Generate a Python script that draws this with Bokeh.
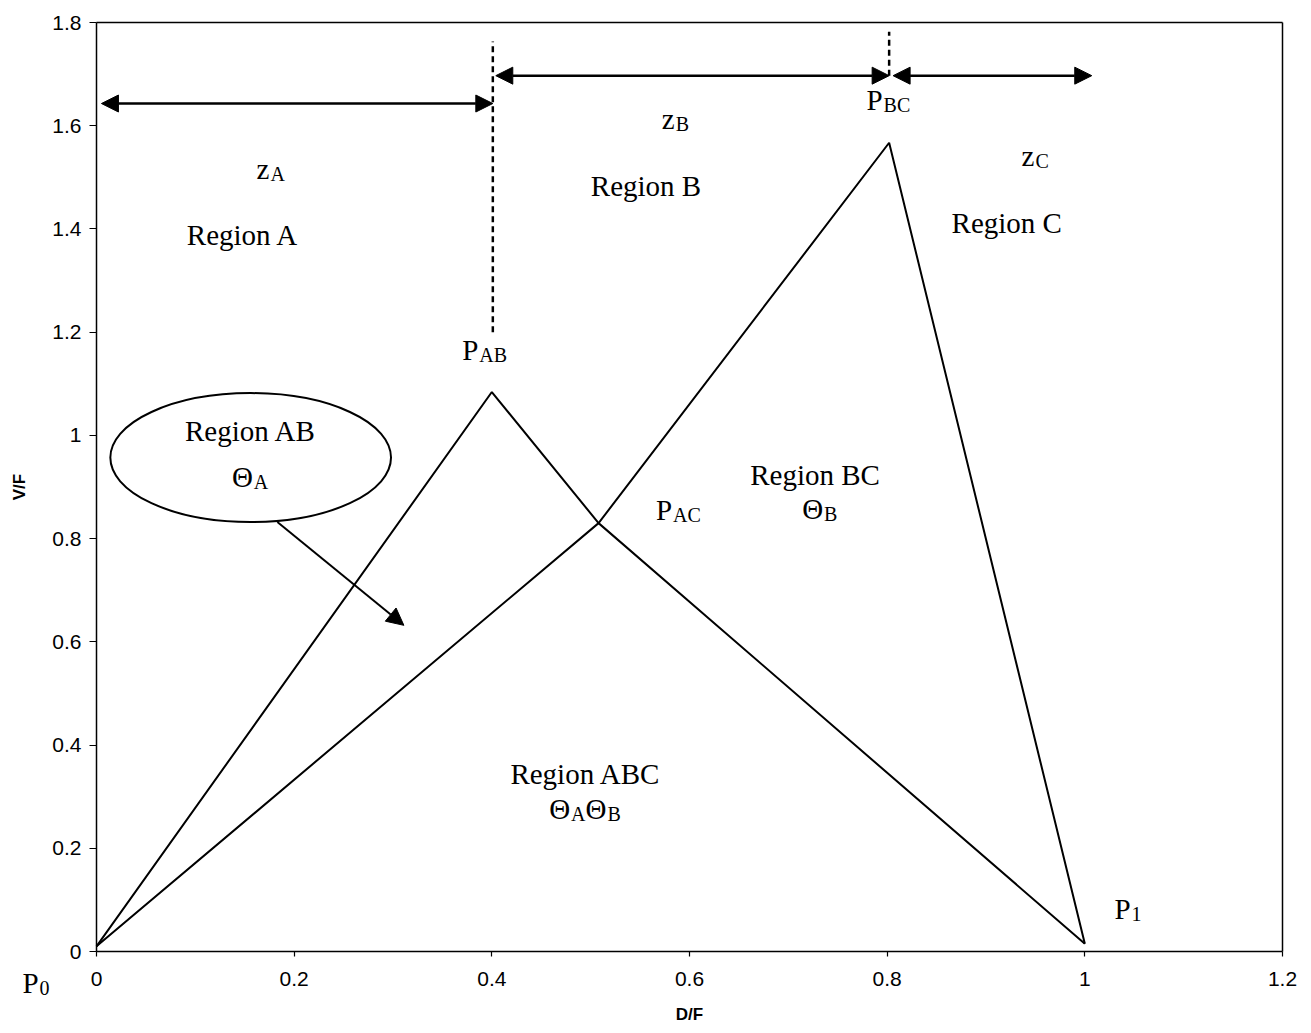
from bokeh.plotting import figure
from bokeh.models import Arrow, NormalHead, FixedTicker, LinearAxis
from bokeh.core.properties import value
from bokeh.embed import file_html
from bokeh.resources import INLINE

# Operating lines (D/F on x, V/F on y)
line_a_x = [0.0, 0.400, 0.508, 1.0]
line_a_y = [0.01, 1.084, 0.830, 0.015]
line_b_x = [0.0, 0.508, 0.802, 1.0]
line_b_y = [0.01, 0.830, 1.567, 0.015]

# Axis ticks
x_ticks = [0, 0.2, 0.4, 0.6, 0.8, 1.0, 1.2]
x_tick_labels = ["0", "0.2", "0.4", "0.6", "0.8", "1", "1.2"]
y_ticks = [0, 0.2, 0.4, 0.6, 0.8, 1.0, 1.2, 1.4, 1.6, 1.8]
y_tick_labels = ["0", "0.2", "0.4", "0.6", "0.8", "1", "1.2", "1.4", "1.6", "1.8"]
x_lim = (0.0, 1.2)
y_lim = (0.0, 1.8)

# Zone spans z_A, z_B, z_C (start, end, height of the double arrow)
zone_start = [0.005, 0.404, 0.806]
zone_end = [0.401, 0.802, 1.007]
zone_level = [1.643, 1.697, 1.697]

# Dotted zone boundaries
boundary_x = [0.401, 0.802]
boundary_bottom = [1.20, 1.697]
boundary_top = [1.763, 1.782]

# Canvas geometry: the axes box sits inside a 1311 x 1033 canvas
W, H = 1311, 1033
BOX_LEFT, BOX_RIGHT, BOX_TOP, BOX_BOTTOM = 96, 1282, 22, 951
kx = (BOX_RIGHT - BOX_LEFT) / (x_lim[1] - x_lim[0])
ky = (BOX_BOTTOM - BOX_TOP) / (y_lim[1] - y_lim[0])
x_range = (x_lim[0] - BOX_LEFT / kx, x_lim[0] + (W - BOX_LEFT) / kx)
y_range = (y_lim[0] - (H - BOX_BOTTOM) / ky, y_lim[0] + BOX_BOTTOM / ky)

SERIF = "Liberation Serif"
SANS = "Liberation Sans"
BASE_SIZE = 29
SUB_SIZE = 20
# advance widths in em (Times metrics)
EM = {"P": 0.556, "z": 0.444, "Θ": 0.722, "A": 0.722, "B": 0.667, "C": 0.667,
      "0": 0.5, "1": 0.5}


def em_width(s, size):
    return sum(EM.get(c, 0.55) for c in s) * size


p = figure(width=W, height=H, x_range=x_range, y_range=y_range,
           output_backend="svg", toolbar_location=None,
           min_border=0, min_border_left=0, min_border_right=0,
           min_border_top=0, min_border_bottom=0)

p.xgrid.visible = False
p.ygrid.visible = False
p.outline_line_color = None
p.background_fill_color = "white"
p.border_fill_color = "white"

# main axes pinned to the origin, drawn only over the data limits
p.xaxis.fixed_location = y_lim[0]
p.yaxis.fixed_location = x_lim[0]
p.xaxis.bounds = x_lim
p.yaxis.bounds = y_lim
p.xaxis.ticker = FixedTicker(ticks=x_ticks)
p.yaxis.ticker = FixedTicker(ticks=y_ticks)
p.xaxis.major_label_overrides = dict(zip(x_ticks, x_tick_labels))
p.yaxis.major_label_overrides = dict(zip(y_ticks, y_tick_labels))
p.xaxis.minor_tick_line_color = None
p.yaxis.minor_tick_line_color = None
for ax in (p.xaxis, p.yaxis):
    ax.axis_line_color = "black"
    ax.axis_line_width = 1.5
    ax.major_tick_line_color = "black"
    ax.major_tick_line_width = 1.2
    ax.major_tick_in = 0
    ax.major_label_text_font = SANS
    ax.major_label_text_font_size = "21px"
    ax.major_label_text_color = "black"
    ax.axis_label_text_font = SANS
    ax.axis_label_text_font_size = "17px"
    ax.axis_label_text_font_style = "bold"
    ax.axis_label_text_color = "black"
p.xaxis.major_tick_out = 5
p.yaxis.major_tick_out = 7
p.xaxis.major_label_standoff = 15
p.yaxis.major_label_standoff = 8
p.xaxis.axis_label = "D/F"
p.yaxis.axis_label = "V/F"
p.xaxis.axis_label_standoff = 16
p.yaxis.axis_label_standoff = 20

# closing top and right edges of the box
top_edge = LinearAxis(fixed_location=y_lim[1], bounds=x_lim, ticker=FixedTicker(ticks=[]),
                      axis_line_color="black", axis_line_width=1.5,
                      major_tick_line_color=None, minor_tick_line_color=None)
right_edge = LinearAxis(fixed_location=x_lim[1], bounds=y_lim, ticker=FixedTicker(ticks=[]),
                        axis_line_color="black", axis_line_width=1.5,
                        major_tick_line_color=None, minor_tick_line_color=None)
p.add_layout(top_edge, "above")
p.add_layout(right_edge, "right")

# operating lines
p.line(line_a_x, line_a_y, line_color="black", line_width=2)
p.line(line_b_x, line_b_y, line_color="black", line_width=2)

# zone boundaries
p.segment(x0=boundary_x, y0=boundary_bottom, x1=boundary_x, y1=boundary_top,
          line_color="black", line_width=2.5, line_dash="6 4")

# zone double arrows
for xs, xe, yl in zip(zone_start, zone_end, zone_level):
    p.add_layout(Arrow(x_start=xs, y_start=yl, x_end=xe, y_end=yl,
                       line_color="black", line_width=2.5,
                       start=NormalHead(size=17, fill_color="black", line_color="black"),
                       end=NormalHead(size=17, fill_color="black", line_color="black")))

# callout for Region AB
p.ellipse(x=[0.156], y=[0.957], width=[0.284], height=[0.25],
          fill_color=None, line_color="black", line_width=2)
p.add_layout(Arrow(x_start=0.183, y_start=0.832, x_end=0.311, y_end=0.632,
                   line_color="black", line_width=2,
                   end=NormalHead(size=17, fill_color="black", line_color="black")))

# plain region names (centred)
region_names = ["Region A", "Region B", "Region C", "Region AB", "Region BC", "Region ABC"]
region_x = [0.148, 0.556, 0.921, 0.156, 0.727, 0.495]
region_y = [1.388, 1.483, 1.412, 1.008, 0.923, 0.343]
p.text(x=region_x, y=region_y, text=region_names,
       text_font=value(SERIF), text_font_size=f"{BASE_SIZE}px",
       text_align="center", text_baseline="alphabetic", text_color="black")

# symbols with subscripts: list of (base, subscript) pieces, anchor (left, baseline)
sub_labels = [
    ([("z", "A")], 0.162, 1.516),
    ([("z", "B")], 0.572, 1.613),
    ([("z", "C")], 0.936, 1.541),
    ([("P", "BC")], 0.779, 1.650),
    ([("P", "AB")], 0.370, 1.165),
    ([("P", "AC")], 0.566, 0.856),
    ([("Θ", "A")], 0.137, 0.919),
    ([("Θ", "B")], 0.714, 0.858),
    ([("Θ", "A"), ("Θ", "B")], 0.458, 0.277),
    ([("P", "1")], 1.030, 0.083),
    ([("P", "0")], -0.075, -0.062),
]

bx, by, bt, bo = [], [], [], []
sx, sy, st, so = [], [], [], []
for pieces, x0, y0 in sub_labels:
    off = 0.0
    for base, sub in pieces:
        bx.append(x0); by.append(y0); bt.append(base); bo.append(off)
        off += em_width(base, BASE_SIZE) + 1
        sx.append(x0); sy.append(y0); st.append(sub); so.append(off)
        off += em_width(sub, SUB_SIZE)

p.text(x=bx, y=by, text=bt, x_offset=bo,
       text_font=value(SERIF), text_font_size=f"{BASE_SIZE}px",
       text_align="left", text_baseline="alphabetic", text_color="black")
p.text(x=sx, y=sy, text=st, x_offset=so, y_offset=5,
       text_font=value(SERIF), text_font_size=f"{SUB_SIZE}px",
       text_align="left", text_baseline="alphabetic", text_color="black")

open("out.html", "w").write(file_html(p, INLINE))
